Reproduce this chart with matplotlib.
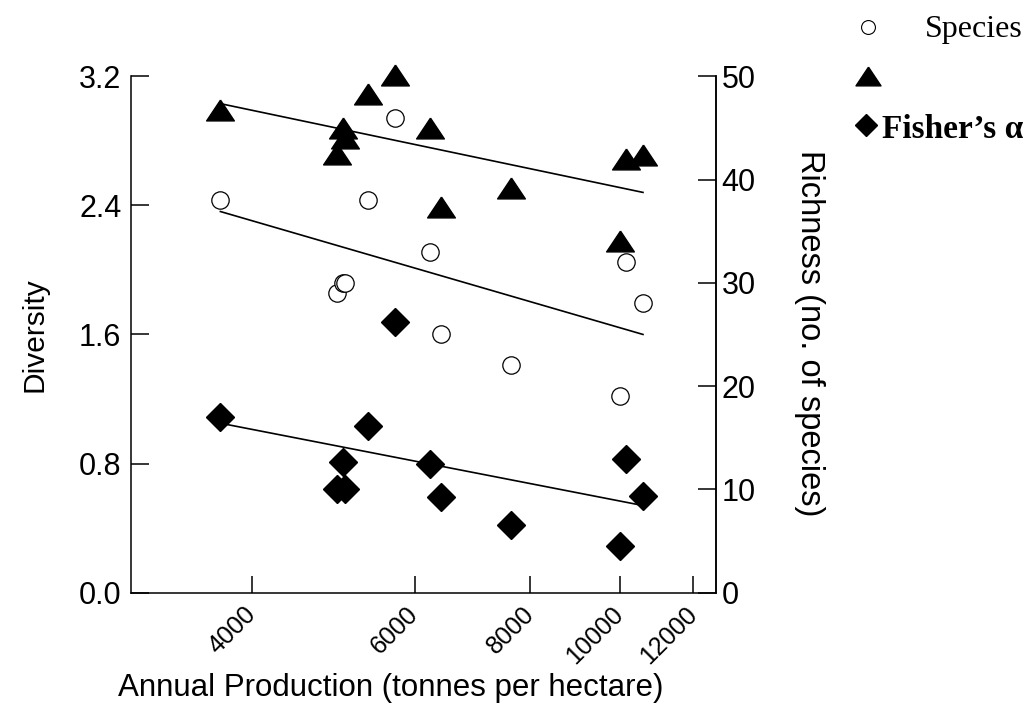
import matplotlib
matplotlib.use('Agg')
import matplotlib.pyplot as plt
from matplotlib.lines import Line2D
from matplotlib.ticker import NullLocator

plt.rcParams['font.family'] = ['Liberation Sans', 'DejaVu Sans']

# Site data
production = [3700, 4940, 5020, 5045, 5340, 5710, 6230, 6405, 7620, 10000, 10150, 10590]
shannon = [2.99, 2.72, 2.88, 2.82, 3.09, 3.21, 2.88, 2.39, 2.51, 2.18, 2.69, 2.71]
richness = [38, 29, 30, 30, 38, 46, 33, 25, 22, 19, 32, 28]
fisher = [1.09, 0.64, 0.81, 0.64, 1.03, 1.68, 0.80, 0.59, 0.42, 0.29, 0.83, 0.60]

# Regression lines (values at the two ends)
trend_x = [3700, 10590]
shannon_fit = [3.03, 2.48]
richness_fit = [36.9, 25.0]
fisher_fit = [1.05, 0.54]

x_ticks = [4000, 6000, 8000, 10000, 12000]
left_ticks = [0.0, 0.8, 1.6, 2.4, 3.2]
right_ticks = [0, 10, 20, 30, 40, 50]

W, H = 1036, 709
fig = plt.figure(figsize=(W / 100, H / 100), dpi=100)
ax = fig.add_axes([131 / W, 116.3 / H, 585 / W, 516.5 / H])
ax2 = ax.twinx()

flat_tri = [(0, 0.75), (-1, -0.75), (1, -0.75), (0, 0.75)]

# left axis: Shannon and Fisher's alpha
ax.plot(trend_x, shannon_fit, color='black', lw=1.2)
ax.plot(trend_x, fisher_fit, color='black', lw=1.2)
ax.plot(production, shannon, linestyle='none', marker=flat_tri, markersize=20,
        color='black', clip_on=False, zorder=3)
ax.plot(production, fisher, linestyle='none', marker='D', markersize=14,
        color='black', clip_on=False, zorder=3)

# right axis: species richness
ax2.plot(trend_x, richness_fit, color='black', lw=1.2)
ax2.plot(production, richness, linestyle='none', marker='o', markersize=12.5,
         markerfacecolor='white', markeredgecolor='black', markeredgewidth=0.9,
         clip_on=False, zorder=3)

ax.set_xscale('log')
ax.set_xlim(2962, 12700)
ax.xaxis.set_minor_locator(NullLocator())
ax.set_xticks(x_ticks)
ax.set_xticklabels([str(t) for t in x_ticks], rotation=45, ha='right', va='center',
                   rotation_mode='anchor', fontsize=18)
ax.set_ylim(0, 3.2)
ax.set_yticks(left_ticks)
ax.set_yticklabels(['%.1f' % t for t in left_ticks], fontsize=22)
ax2.set_ylim(0, 50)
ax2.set_yticks(right_ticks)
ax2.set_yticklabels([str(t) for t in right_ticks], fontsize=22)

ax.tick_params(axis='x', direction='in', length=12, width=1.1, pad=13)
ax.tick_params(axis='y', direction='in', length=13, width=1.1, pad=7)
ax2.tick_params(axis='y', direction='in', length=13, width=1.1, pad=4)

for a in (ax, ax2):
    a.spines['top'].set_visible(False)
    for s in a.spines.values():
        s.set_linewidth(1.1)
ax2.spines['left'].set_visible(False)
ax2.spines['bottom'].set_visible(False)

ax.set_xlabel('Annual Production (tonnes per hectare)', fontsize=22.5)
ax.xaxis.set_label_coords((391 - 131) / 585, (592.7 - 688) / 516.5)
ax.xaxis.label.set_va('center')
ax.set_ylabel('Diversity', fontsize=21.5)
ax.yaxis.set_label_coords((35 - 131) / 585, (592.7 - 335) / 516.5)
ax.yaxis.label.set_va('center')
ax2.set_ylabel('Richness (no. of species)', fontsize=23.5, rotation=270)
ax2.yaxis.set_label_coords((809 - 131) / 585, (592.7 - 333) / 516.5)
ax2.yaxis.label.set_va('center')

# legend, placed at the right edge like the original
fig.add_artist(Line2D([868 / W], [1 - 27 / H], marker='o', markersize=10,
                      markerfacecolor='white', markeredgecolor='black',
                      markeredgewidth=0.8, transform=fig.transFigure))
fig.add_artist(Line2D([868 / W], [1 - 76 / H], marker=flat_tri, markersize=18,
                      color='black', transform=fig.transFigure))
fig.add_artist(Line2D([866 / W], [1 - 125 / H], marker='D', markersize=11,
                      color='black', transform=fig.transFigure))
fig.text(925 / W, 1 - 29 / H, 'Species', fontsize=23,
         family=['Liberation Serif', 'DejaVu Serif'], va='center', ha='left')
fig.text(882 / W, 1 - 130 / H, 'Fisher\u2019s \u03b1', fontsize=24, fontweight='bold',
         family=['Liberation Serif', 'DejaVu Serif'], va='center', ha='left')

fig.savefig('out.png', dpi=100)
